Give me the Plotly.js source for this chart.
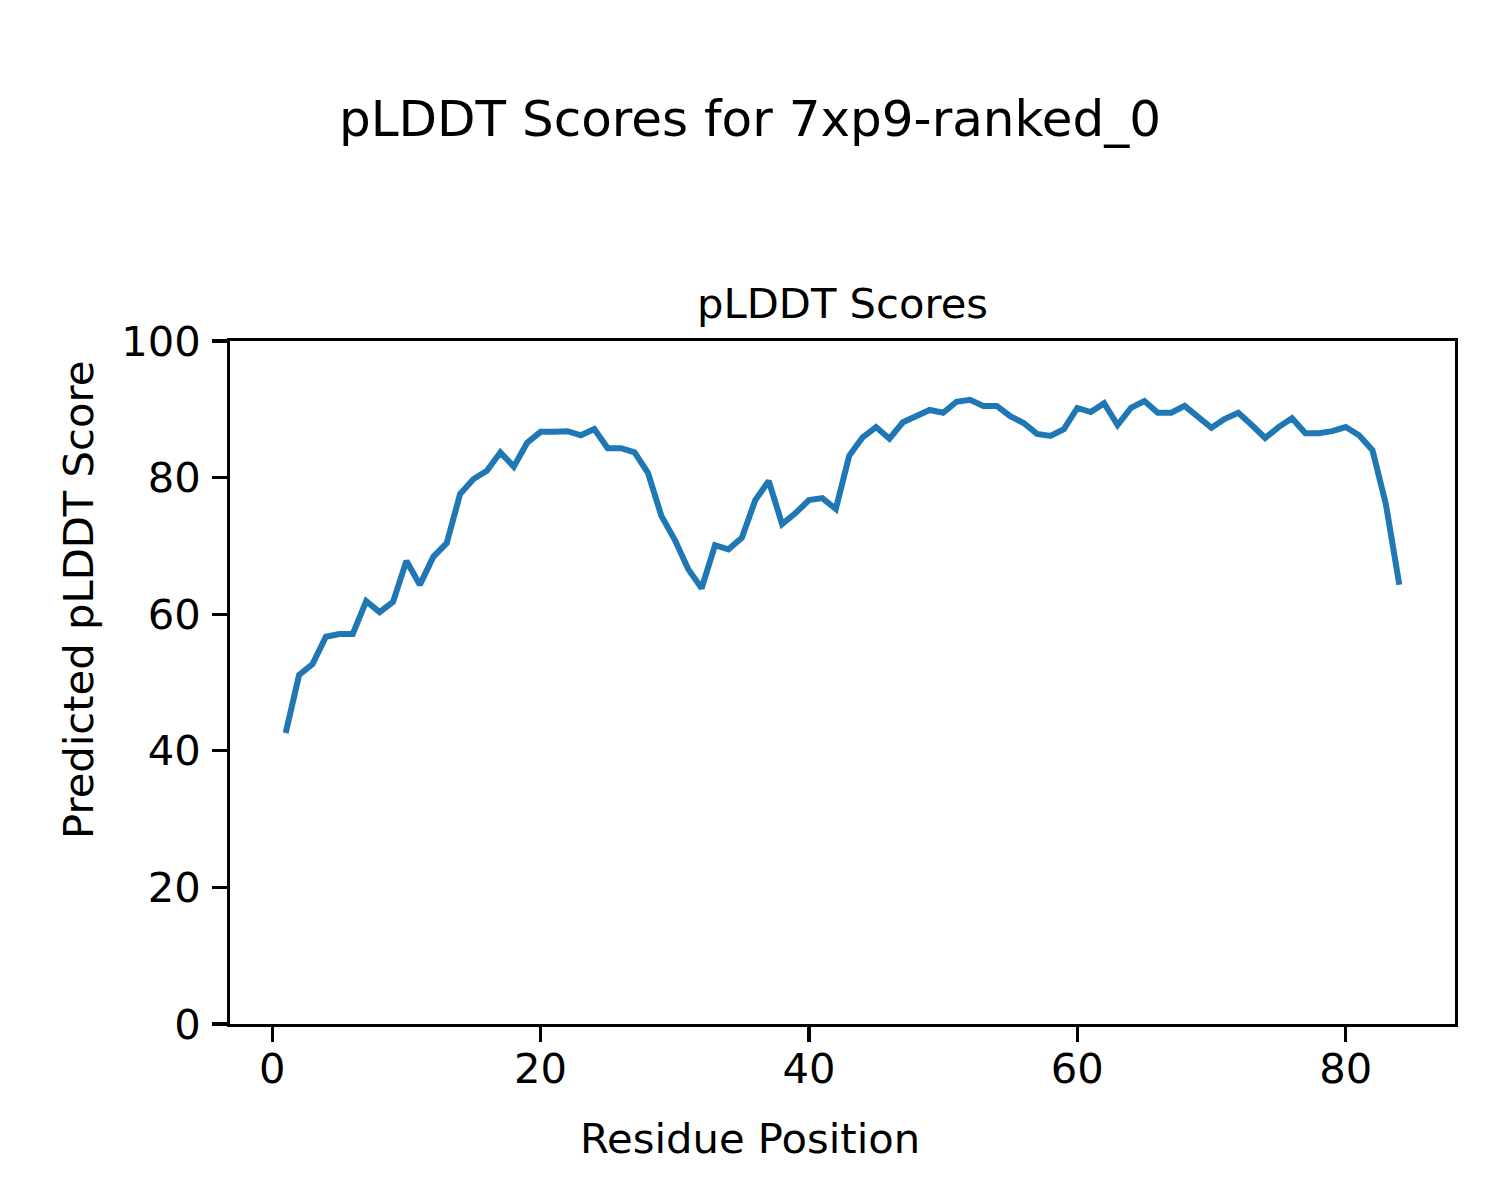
<!DOCTYPE html>
<html>
<head>
<meta charset="utf-8">
<script src="https://cdn.plot.ly/plotly-3.0.1.min.js"></script>
<style>html,body{margin:0;padding:0;background:#fff;}#chart{width:1500px;height:1200px;}</style>
</head>
<body>
<div id="chart"></div>
<script>
const residues = [];
for (let i = 1; i <= 84; i++) residues.push(i);
const plddt = [
  42.6, 51.1, 52.7, 56.7, 57.1, 57.1, 61.9, 60.3, 61.8, 67.8,
  64.3, 68.4, 70.4, 77.6, 79.8, 81.0, 83.7, 81.6, 85.1, 86.7,
  86.7, 86.8, 86.2, 87.1, 84.3, 84.3, 83.7, 80.7, 74.4, 70.9,
  66.6, 63.8, 70.1, 69.5, 71.2, 76.7, 79.5, 73.2, 74.8, 76.7,
  77.0, 75.4, 83.2, 85.9, 87.4, 85.7, 88.1, 89.0, 89.9, 89.5,
  91.1, 91.4, 90.5, 90.5, 89.0, 88.0, 86.4, 86.1, 87.1, 90.2,
  89.6, 90.9, 87.7, 90.2, 91.2, 89.5, 89.5, 90.5, 89.0, 87.3,
  88.6, 89.5, 87.7, 85.8, 87.4, 88.7, 86.5, 86.5, 86.8, 87.4,
  86.2, 84.0, 76.1, 64.3
];
const xTicks = [0, 20, 40, 60, 80];
const yTicks = [0, 20, 40, 60, 80, 100];
const figTitle = "pLDDT Scores for 7xp9-ranked_0";
const axTitle = "pLDDT Scores";
const xLabel = "Residue Position";
const yLabel = "Predicted pLDDT Score";

const font = "DejaVu Sans, sans-serif";
const trace = {
  x: residues, y: plddt, type: "scatter", mode: "lines",
  line: {color: "#1f77b4", width: 6}, hoverinfo: "skip"
};
const axisCommon = {
  showgrid: false, zeroline: false, showline: true, linecolor: "#000", linewidth: 3.3,
  mirror: true, ticks: "outside", ticklen: 14.6, tickwidth: 3.3, tickcolor: "#000",
  tickfont: {family: font, size: 41.7, color: "#000"}, automargin: false
};
const layout = {
  width: 1500, height: 1200,
  paper_bgcolor: "#fff", plot_bgcolor: "#fff",
  margin: {l: 230, r: 45, t: 341, b: 176},
  showlegend: false,
  title: {text: figTitle, font: {family: font, size: 50, color: "#000"},
          x: 0.5, xanchor: "center", y: 1 - 118/1200, yanchor: "middle", xref: "container", yref: "container"},
  xaxis: Object.assign({}, axisCommon, {range: [-3.15, 88.15], tickvals: xTicks, ticktext: xTicks.map(String), ticklabelstandoff: -9}),
  yaxis: Object.assign({}, axisCommon, {range: [0, 100], tickvals: yTicks, ticktext: yTicks.map(String), ticklabelstandoff: 3}),
  annotations: [
    {text: axTitle, xref: "paper", yref: "paper", x: 0.5, y: 1, yshift: 38, xanchor: "center", yanchor: "middle",
     showarrow: false, font: {family: font, size: 41.7, color: "#000"}},
    {text: xLabel, xref: "paper", yref: "paper", x: 0.5, xshift: -92.5, y: 0, yshift: -114, xanchor: "center", yanchor: "middle",
     showarrow: false, font: {family: font, size: 41.7, color: "#000"}},
    {text: yLabel, xref: "paper", yref: "paper", x: 0, y: 0.5, yshift: 82.5, xshift: -152, xanchor: "center", yanchor: "middle",
     textangle: -90, showarrow: false, font: {family: font, size: 41.7, color: "#000"}}
  ]
};
Plotly.newPlot("chart", [trace], layout, {displayModeBar: false, staticPlot: true});
</script>
</body>
</html>
